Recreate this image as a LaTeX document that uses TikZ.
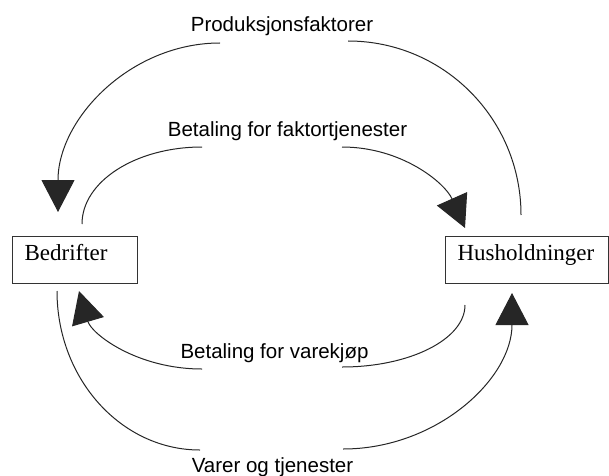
\documentclass[tikz,border=0pt]{standalone}
\usepackage{fontspec}
\setmainfont{Liberation Serif}
\newfontfamily\lblfont{Liberation Sans}
\usetikzlibrary{arrows.meta}
\begin{document}
\begin{tikzpicture}[x=1pt,y=1pt,
  flow/.style={line width=1pt, draw=black!85},
  tipped/.style={-{Triangle[length=32pt,width=33pt]}},
  lbl/.style={font=\lblfont\fontsize{20.5}{24}\selectfont, anchor=base, inner sep=0pt},
  agent/.style={draw=black!80, line width=1.1pt, anchor=north west, inner ysep=0pt,
    inner xsep=12pt, text height=24pt, text depth=23pt, align=left,
    font=\fontsize{23}{26}\selectfont}]
\useasboundingbox (0,0) rectangle (609,475);

% agents
\node[agent, text width=101pt] (bed) at (12,239) {Bedrifter};
\node[agent, text width=139pt] (hus) at (445,239) {Husholdninger};

% labels
\node[lbl] (l1) at (282,443) {Produksjonsfaktorer};
\node[lbl] (l2) at (287.5,339) {Betaling for faktortjenester};
\node[lbl] (l3) at (274.5,117) {Betaling for varekjøp};
\node[lbl] (l4) at (272.5,3) {Varer og tjenester};

% end points
\coordinate (a1s) at (521,260); \coordinate (a1m) at (348,434);
\coordinate (a1n) at (220,432); \coordinate (a1t) at (58,263);
\coordinate (a2s) at (82,251);  \coordinate (a2m) at (202,328);
\coordinate (a2n) at (342,328); \coordinate (a2t) at (465,247);
\coordinate (a3s) at (465,170); \coordinate (a3m) at (342,108);
\coordinate (a3n) at (202,106); \coordinate (a3t) at (79,184);
\coordinate (a4s) at (57,184);  \coordinate (a4m) at (200,25);
\coordinate (a4n) at (343,26);  \coordinate (a4t) at (512,182);

% Produksjonsfaktorer
\draw[flow] (a1s) .. controls +(0,96) and +(95.8,0) .. (a1m);
\draw[flow,tipped] (a1n) .. controls +(-89.5,0) and +(0,93.3) .. (a1t);
% Betaling for faktortjenester
\draw[flow] (a2s) .. controls +(0,42.5) and +(-66.3,0) .. (a2m);
\draw[flow,tipped] (a2n) .. controls +(60,0) and +(-20,45) .. (a2t);
% Betaling for varekjoep
\draw[flow] (a3s) .. controls +(0,-34.2) and +(67.9,0) .. (a3m);
\draw[flow,tipped] (a3n) .. controls +(-65,0) and +(12.6,-43) .. (a3t);
% Varer og tjenester
\draw[flow] (a4s) .. controls +(0,-87.8) and +(-79,0) .. (a4m);
\draw[flow,tipped] (a4n) .. controls +(93.3,0) and +(0,-86.2) .. (a4t);
\end{tikzpicture}
\end{document}
